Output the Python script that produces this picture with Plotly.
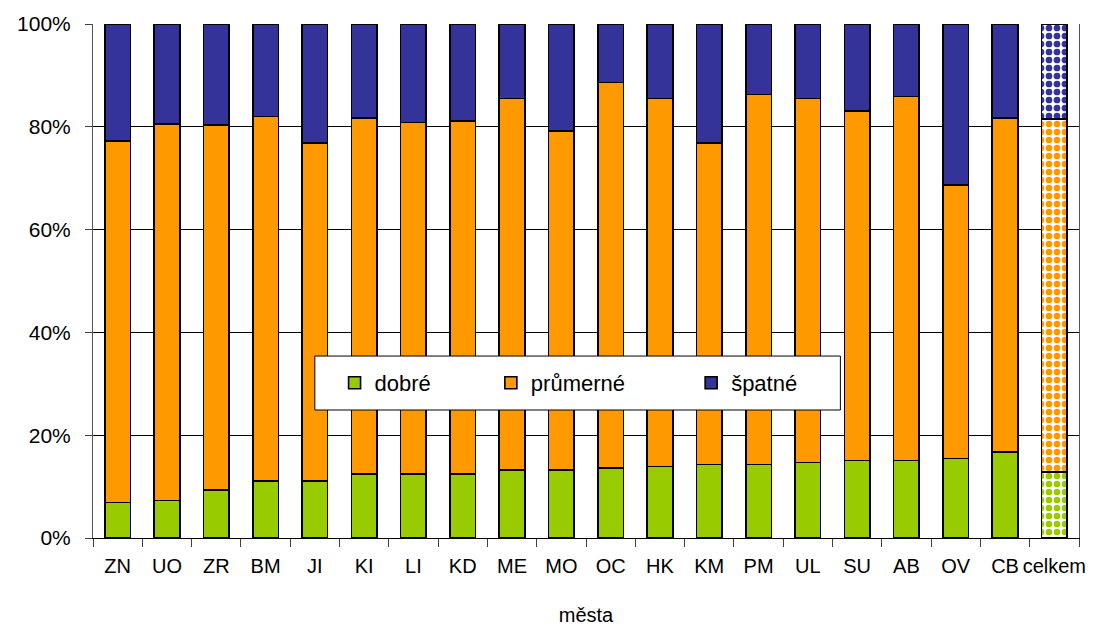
import plotly.graph_objects as go

# cities (last column is the overall total)
mesta = ["ZN", "UO", "ZR", "BM", "JI", "KI", "LI", "KD", "ME", "MO",
         "OC", "HK", "KM", "PM", "UL", "SU", "AB", "OV", "CB", "celkem"]

# share of "dobré" ratings, %
dobre = [6.9, 7.3, 9.3, 11.1, 11.1, 12.4, 12.4, 12.4, 13.2, 13.2,
         13.6, 13.9, 14.3, 14.3, 14.7, 15.1, 15.1, 15.5, 16.7, 12.8]
# cumulative share dobré + průmerné, %
dobre_prumerne = [77.2, 80.5, 80.4, 82.0, 76.8, 81.7, 80.8, 81.1, 85.5, 79.2,
                  88.6, 85.5, 76.9, 86.3, 85.5, 83.1, 85.9, 68.7, 81.7, 81.5]

prumerne = [round(c - d, 1) for c, d in zip(dobre_prumerne, dobre)]
spatne = [round(100 - c, 1) for c in dobre_prumerne]

series = [
    ("dobré", dobre, "#99CC00"),
    ("průmerné", prumerne, "#FF9900"),
    ("špatné", spatne, "#333399"),
]
# padding after each legend label to spread the entries out
legend_pad = {"dobré": 9, "průmerné": 10, "špatné": 0}

FONT = "Liberation Sans, Arial, sans-serif"

fig = go.Figure()
for name, vals, color in series:
    shapes = ["." if m == "celkem" else "" for m in mesta]
    fig.add_trace(go.Bar(
        x=mesta,
        y=vals,
        name=name + "\u00a0" * legend_pad[name],
        marker=dict(
            color=color,
            line=dict(color="black", width=1.6),
            pattern=dict(shape=shapes, fgcolor=color, bgcolor="white",
                         size=8, solidity=0.55, fillmode="replace"),
        ),
        hovertemplate="%{x}: %{y:.1f} %<extra>" + name + "</extra>",
    ))

# framed white box behind the legend entries
fig.add_shape(
    type="rect", xref="paper", yref="paper",
    x0=0.225, x1=0.758, y0=0.249, y1=0.354,
    fillcolor="white", line=dict(color="black", width=1), layer="above",
)

fig.update_layout(
    barmode="stack",
    bargap=0.48,
    width=1097,
    height=626,
    margin=dict(l=93, r=18, t=24, b=88),
    paper_bgcolor="white",
    plot_bgcolor="white",
    font=dict(family=FONT, size=20, color="black"),
    showlegend=True,
    legend=dict(
        orientation="h",
        x=0.245, xanchor="left",
        y=0.3016, yanchor="middle",
        bgcolor="rgba(0,0,0,0)",
        borderwidth=0,
        font=dict(family=FONT, size=22, color="black"),
        traceorder="normal",
        itemclick=False,
    ),
    xaxis=dict(
        type="category",
        tickson="boundaries",
        ticks="outside",
        ticklen=8,
        tickcolor="#404040",
        tickangle=0,
        ticklabelstandoff=10,
        automargin=False,
        showline=True,
        linecolor="black",
        linewidth=1,
        showgrid=False,
        tickfont=dict(size=20),
        title=dict(text="města", font=dict(size=20), standoff=31),
    ),
    yaxis=dict(
        range=[0, 100],
        tickvals=[0, 20, 40, 60, 80, 100],
        ticktext=["0%", "20%", "40%", "60%", "80%", "100%"],
        ticks="outside",
        ticklen=7,
        tickcolor="#404040",
        ticklabelstandoff=10,
        automargin=False,
        showline=True,
        mirror=True,
        linecolor="#555555",
        linewidth=1,
        showgrid=True,
        gridcolor="black",
        gridwidth=1,
        zeroline=False,
        tickfont=dict(size=21),
    ),
)

fig.write_html("out.html")
